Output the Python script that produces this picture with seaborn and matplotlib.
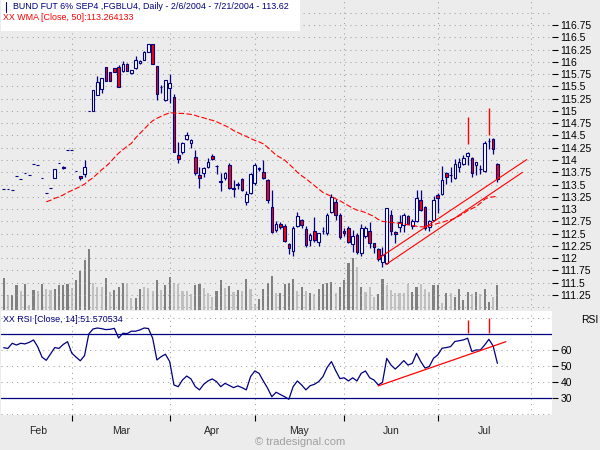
import numpy as np
import pandas as pd
import seaborn as sns
import matplotlib.pyplot as plt
from matplotlib.lines import Line2D
from matplotlib.patches import Rectangle

sns.set_style("white")
plt.rcParams["font.family"] = ["Liberation Sans", "DejaVu Sans"]

NAVY = "#000080"
RED = "#ff0000"
DOT = "#a0a0a0"

# daily bars, bar 0 = 2/6/2004 ... bar 116 = 7/21/2004
opens = [113.41, 113.41, 113.38, 113.67, 113.61, 113.73, 113.69, 113.91, 113.89, 113.63,
         113.32, 113.44, 113.63, 113.93, 113.86, 114.20, 114.20, 113.77, 113.67, 113.71,
         115.00, 115.00, 115.32, 115.45, 115.89, 115.79, 115.87, 115.89, 115.82, 115.96,
         115.77, 115.87, 115.98, 116.04, 116.21, 116.36, 115.91, 115.48, 115.22, 115.46,
         115.29, 114.10, 114.16, 114.42, 114.34, 114.06, 113.69, 113.74, 113.86, 114.08,
         113.87, 113.57, 113.63, 113.90, 113.43, 113.51, 113.61, 113.15, 113.32, 113.53,
         113.83, 113.76, 113.59, 113.05, 112.57, 112.70, 112.66, 112.29, 112.15, 112.66,
         112.78, 112.59, 112.37, 112.55, 112.34, 112.55, 112.51, 112.95, 113.14, 112.89,
         112.55, 112.61, 112.29, 112.47, 112.10, 112.45, 112.55, 112.30, 112.18, 111.93,
         111.90, 112.88, 112.54, 112.64, 112.68, 112.86, 112.66, 112.75, 113.19, 113.04,
         112.63, 112.78, 113.29, 113.31, 113.73, 113.69, 113.64, 113.86, 113.91, 114.09,
         114.05, 113.90, 113.82, 113.78, 114.39, 114.42, 113.91]
highs = [113.41, 113.41, 113.38, 113.67, 113.61, 113.73, 113.69, 113.91, 113.89, 113.63,
         113.32, 113.44, 113.81, 113.93, 113.87, 114.20, 114.20, 113.77, 113.68, 114.00,
         115.00, 115.43, 115.71, 115.68, 115.89, 115.80, 115.88, 115.93, 116.02, 115.98,
         115.84, 116.12, 116.04, 116.22, 116.37, 116.37, 115.92, 115.53, 115.64, 115.75,
         115.34, 114.37, 114.36, 114.57, 114.43, 114.20, 113.85, 113.85, 114.05, 114.12,
         113.90, 113.74, 113.76, 113.94, 113.59, 113.55, 113.63, 113.36, 113.73, 113.93,
         113.86, 114.01, 113.62, 113.39, 112.75, 112.73, 112.70, 112.31, 112.66, 112.95,
         112.80, 112.65, 112.52, 112.83, 112.51, 112.63, 112.92, 113.30, 113.20, 112.92,
         112.62, 112.65, 112.57, 112.52, 112.70, 112.65, 112.74, 112.32, 112.20, 112.23,
         113.02, 112.98, 112.56, 112.88, 112.92, 112.88, 112.80, 113.38, 113.38, 113.06,
         112.78, 113.26, 113.32, 113.88, 113.75, 113.85, 114.02, 114.05, 114.11, 114.17,
         114.07, 113.97, 113.90, 114.39, 114.44, 114.44, 113.93]
lows = [113.41, 113.41, 113.38, 113.67, 113.61, 113.73, 113.69, 113.91, 113.89, 113.63,
        113.32, 113.44, 113.63, 113.93, 113.82, 114.20, 114.20, 113.77, 113.60, 113.66,
        115.00, 115.00, 115.32, 115.36, 115.60, 115.62, 115.79, 115.48, 115.79, 115.81,
        115.75, 115.85, 115.96, 116.03, 116.20, 115.95, 115.22, 115.37, 115.20, 115.16,
        114.17, 113.94, 114.12, 114.40, 114.24, 113.70, 113.44, 113.66, 113.83, 114.00,
        113.71, 113.37, 113.60, 113.42, 113.25, 113.41, 113.37, 113.09, 113.30, 113.50,
        113.77, 113.61, 113.13, 112.51, 112.53, 112.60, 112.33, 112.09, 112.04, 112.63,
        112.62, 112.22, 112.24, 112.33, 112.24, 112.49, 112.48, 112.93, 112.78, 112.40,
        112.45, 112.32, 112.12, 112.08, 112.05, 112.42, 112.21, 112.10, 111.94, 111.83,
        111.88, 112.47, 112.30, 112.54, 112.54, 112.70, 112.60, 112.73, 112.96, 112.58,
        112.55, 112.76, 112.92, 113.29, 113.52, 113.56, 113.62, 113.76, 113.89, 113.90,
        113.66, 113.70, 113.72, 113.76, 114.22, 114.12, 113.55]
closes = [113.41, 113.41, 113.38, 113.67, 113.61, 113.73, 113.69, 113.91, 113.89, 113.63,
          113.32, 113.44, 113.81, 113.93, 113.84, 114.20, 114.20, 113.77, 113.64, 113.86,
          115.00, 115.43, 115.58, 115.68, 115.60, 115.62, 115.79, 115.48, 115.96, 115.81,
          115.83, 116.04, 116.02, 116.21, 116.36, 115.95, 115.35, 115.48, 115.63, 115.56,
          114.17, 114.03, 114.34, 114.51, 114.41, 113.73, 113.63, 113.83, 113.97, 114.03,
          113.87, 113.56, 113.73, 113.44, 113.42, 113.50, 113.39, 113.31, 113.71, 113.90,
          113.82, 113.63, 113.19, 112.54, 112.70, 112.64, 112.36, 112.20, 112.61, 112.85,
          112.68, 112.27, 112.47, 112.37, 112.51, 112.55, 112.88, 113.25, 112.88, 112.43,
          112.51, 112.34, 112.45, 112.12, 112.61, 112.61, 112.30, 112.23, 111.98, 112.06,
          113.02, 112.56, 112.49, 112.73, 112.88, 112.70, 112.76, 113.22, 112.98, 112.61,
          112.76, 113.18, 113.22, 113.59, 113.66, 113.69, 113.91, 113.95, 114.05, 114.15,
          113.73, 113.97, 113.82, 114.34, 114.39, 114.22, 113.62]

# volume (relative units) and shade flag (1 = dark bar)
volume = [32, 15, 15, 25, 19, 26, 5, 20, 19, 26, 21, 20, 21, 25, 25, 26, 22, 30, 39, 50,
          61, 27, 23, 23, 32, 18, 20, 23, 27, 26, 12, 12, 21, 23, 22, 19, 30, 20, 25, 33,
          27, 26, 19, 19, 16, 25, 26, 22, 17, 13, 19, 30, 22, 24, 18, 20, 19, 31, 21, 6,
          11, 21, 27, 34, 17, 17, 26, 27, 31, 19, 23, 19, 17, 16, 21, 26, 27, 28, 17, 23,
          30, 47, 52, 43, 23, 18, 23, 13, 16, 31, 25, 20, 17, 17, 17, 26, 18, 23, 26, 21,
          18, 25, 25, 7, 17, 17, 13, 21, 10, 18, 16, 18, 16, 21, 8, 13, 25]
vol_dark = [1, 0, 1, 1, 0, 1, 0, 1, 0, 1, 0, 0, 1, 1, 1, 1, 0, 1, 1, 1,
            1, 0, 0, 0, 1, 0, 1, 1, 1, 0, 0, 1, 1, 0, 0, 0, 1, 0, 1, 1,
            0, 0, 0, 0, 0, 1, 1, 0, 0, 0, 1, 1, 0, 1, 0, 1, 0, 1, 0, 0,
            1, 1, 1, 1, 0, 1, 1, 1, 1, 0, 1, 0, 1, 0, 1, 1, 1, 1, 0, 1,
            1, 1, 1, 0, 1, 0, 0, 0, 1, 1, 0, 0, 0, 0, 0, 0, 1, 1, 0, 0,
            0, 1, 1, 0, 1, 0, 1, 1, 1, 1, 0, 1, 0, 1, 1, 0, 1]

# WMA(50) from bar 10 on
wma_first_bar = 10
wma = [113.15, 113.18, 113.22, 113.25, 113.29, 113.34, 113.38, 113.42, 113.46, 113.51,
       113.58, 113.64, 113.72, 113.80, 113.87, 113.95, 114.05, 114.14, 114.21, 114.28,
       114.34, 114.45, 114.54, 114.63, 114.72, 114.80, 114.85, 114.89, 114.93, 114.96,
       114.96, 114.95, 114.95, 114.94, 114.93, 114.91, 114.88, 114.86, 114.83, 114.81,
       114.78, 114.74, 114.70, 114.66, 114.60, 114.56, 114.52, 114.48, 114.44, 114.40,
       114.37, 114.33, 114.26, 114.18, 114.10, 114.05, 114.00, 113.92, 113.84, 113.75,
       113.68, 113.62, 113.55, 113.48, 113.41, 113.34, 113.30, 113.26, 113.21, 113.17,
       113.12, 113.07, 113.02, 112.98, 112.96, 112.93, 112.89, 112.85, 112.79, 112.75,
       112.74, 112.73, 112.72, 112.71, 112.70, 112.68, 112.67, 112.65, 112.64, 112.64,
       112.66, 112.68, 112.71, 112.73, 112.76, 112.78, 112.81, 112.86, 112.91, 112.97,
       113.01, 113.05, 113.12, 113.20, 113.24, 113.25, 113.26]

# RSI(14)
rsi = [61.4, 61.0, 64.2, 63.1, 64.2, 63.8, 64.8, 66.3, 62.0, 55.5,
       53.5, 57.5, 61.5, 61.0, 63.5, 65.2, 58.0, 55.5, 53.2, 56.5,
       70.1, 73.2, 73.8, 73.4, 72.8, 73.0, 73.6, 67.5, 70.5, 70.3,
       71.8, 71.8, 72.6, 73.8, 73.5, 67.4, 53.7, 55.8, 57.3, 52.7,
       38.0, 36.9, 41.1, 43.6, 41.8, 37.0, 34.9, 38.4, 40.5, 41.8,
       40.1, 36.9, 39.0, 37.7, 36.3, 37.4, 36.3, 34.9, 43.2, 46.8,
       45.3, 40.5, 36.0, 30.6, 33.4, 32.0, 30.6, 29.0, 36.9, 40.5,
       38.0, 34.9, 37.5, 38.4, 40.1, 43.2, 49.0, 52.7, 47.0, 42.0,
       42.5, 40.5, 42.5, 40.5, 45.3, 46.8, 42.5, 41.1, 38.0, 39.6,
       54.7, 50.5, 48.0, 50.5, 53.3, 50.5, 51.6, 57.9, 52.7, 48.6,
       49.6, 54.8, 56.9, 61.1, 61.5, 62.1, 65.3, 65.8, 66.3, 67.4,
       59.0, 60.0, 60.0, 63.1, 66.7, 62.5, 51.57]

# trend lines (bar, value)
price_trend_upper = ([87.8, 122.9], [111.98, 114.01])
price_trend_lower = ([89.8, 121.9], [111.87, 113.75])
rsi_trend = ([88.0, 118.0], [37.4, 65.2])

# red signal marks
signal_bars = [109, 114]
signal_price_low = [114.32, 114.51]
signal_price_high = [114.88, 115.05]
signal_rsi_low = [70.6, 70.6]
signal_rsi_high = [79.0, 79.8]

month_starts = [0, 16, 39, 59, 80, 102, 124]
month_names = ["Feb", "Mar", "Apr", "May", "Jun", "Jul"]
price_ticks = [111.25, 111.5, 111.75, 112, 112.25, 112.5, 112.75, 113, 113.25, 113.5,
               113.75, 114, 114.25, 114.5, 114.75, 115, 115.25, 115.5, 115.75, 116,
               116.25, 116.5, 116.75]
price_grid = [111.0] + price_ticks + [117.0]
rsi_ticks = [30, 40, 50, 60]
rsi_grid = [20, 40, 50, 60, 80]
rsi_bands = [70, 30]

n = len(closes)
bars = np.arange(n)
o = np.array(opens)
c = np.array(closes)
up = c >= o

fig = plt.figure(figsize=(6, 4.5), dpi=100, facecolor="#ececec")
ax = fig.add_axes([1 / 600, 140 / 450, 551 / 600, 310 / 450])
ax_vol = ax.twinx()
ax_rsi = fig.add_axes([1 / 600, 35 / 450, 551 / 600, 104 / 450])
xlim = ((1 - 3.7) / 4.256, (552 - 3.7) / 4.256)

# volume underneath
ax_vol.bar(bars, volume, width=0.5, linewidth=0,
           color=["#808080" if d else "#c0c0c0" for d in vol_dark])
ax_vol.set_ylim(0, max(volume) * 310 / 61)
ax_vol.set_yticks([])
ax_vol.set_facecolor("white")
ax.set_zorder(ax_vol.get_zorder() + 1)
ax.patch.set_visible(False)

# price panel
for lvl in price_grid:
    ax.axhline(lvl, color=DOT, lw=0.75, ls=(0, (1, 4)), zorder=0)
for m in month_starts[1:]:
    ax.axvline(m, color=DOT, lw=0.75, ls=(0, (1, 4)), zorder=0)
ax.add_patch(Rectangle((0, 1 - 31 / 310), 299 / 551, 31 / 310, transform=ax.transAxes,
                       facecolor="white", edgecolor="none", zorder=1))

ax.vlines(bars, lows, highs, color=NAVY, lw=0.9, zorder=3)
ax.bar(bars, np.abs(c - o), bottom=np.minimum(o, c), width=0.62,
       color=np.where(up, "white", RED), edgecolor=NAVY, linewidth=0.8, zorder=4)

wma_df = pd.DataFrame({"bar": np.arange(wma_first_bar, wma_first_bar + len(wma)), "wma": wma})
sns.lineplot(data=wma_df, x="bar", y="wma", ax=ax, color=RED, lw=0.8,
             linestyle=(0, (5, 2)), zorder=5)
ax.plot(*price_trend_upper, color=RED, lw=0.8, zorder=5)
ax.plot(*price_trend_lower, color=RED, lw=0.8, zorder=5)
ax.vlines(signal_bars, signal_price_low, signal_price_high, color=RED, lw=1.0, zorder=5)

ax.set_xlim(xlim)
ax.set_ylim(110.945, 117.26)
ax.set_xticks([])
ax.set_xlabel("")
ax.set_ylabel("")
ax.yaxis.tick_right()
ax.set_yticks(price_ticks)
ax.set_yticklabels([f"{t:g}" for t in price_ticks])
ax.tick_params(axis="y", right=True, left=False, length=4, width=0.8, pad=2,
               labelsize=7.5, colors="black")
for a in (ax, ax_vol):
    for s in a.spines.values():
        s.set_visible(False)

# RSI panel
ax_rsi.set_facecolor("white")
for lvl in rsi_grid:
    ax_rsi.axhline(lvl, color=DOT, lw=0.75, ls=(0, (1, 4)), zorder=0)
for m in month_starts[1:]:
    ax_rsi.axvline(m, color=DOT, lw=0.75, ls=(0, (1, 4)), zorder=0)
for lvl in rsi_bands:
    ax_rsi.axhline(lvl, color=NAVY, lw=0.9, zorder=2)
rsi_df = pd.DataFrame({"bar": bars, "rsi": rsi})
sns.lineplot(data=rsi_df, x="bar", y="rsi", ax=ax_rsi, color=NAVY, lw=0.9, zorder=3)
ax_rsi.plot(*rsi_trend, color=RED, lw=0.9, zorder=4)
ax_rsi.vlines(signal_bars, signal_rsi_low, signal_rsi_high, color=RED, lw=1.0, zorder=4)

ax_rsi.set_xlim(xlim)
ax_rsi.set_ylim(19.1, 84.5)
ax_rsi.set_xlabel("")
ax_rsi.set_ylabel("")
ax_rsi.yaxis.tick_right()
ax_rsi.set_yticks(rsi_ticks)
ax_rsi.set_yticklabels([str(t) for t in rsi_ticks])
ax_rsi.tick_params(axis="y", right=True, left=False, length=4, width=0.8, pad=2,
                   labelsize=7.5, colors="black")
ax_rsi.set_xticks(month_starts[1:6])
ax_rsi.set_xticklabels([])
centers = [(a + b) / 2 for a, b in zip(month_starts[:-1], month_starts[1:])]
ax_rsi.set_xticks(centers, minor=True)
ax_rsi.set_xticklabels(month_names, minor=True)
ax_rsi.tick_params(axis="x", which="major", bottom=True, direction="out", length=4,
                   width=0.8, colors="black")
ax_rsi.tick_params(axis="x", which="minor", bottom=True, length=0, pad=8, labelsize=7.5)
for s in ax_rsi.spines.values():
    s.set_visible(False)

# header texts
fig.add_artist(Line2D([5.5 / 600, 5.5 / 600], [1 - 2 / 450, 1 - 12 / 450],
                      transform=fig.transFigure, color=NAVY, lw=0.8))
fig.add_artist(Rectangle((4 / 600, 1 - 10 / 450), 3 / 600, 5 / 450, transform=fig.transFigure,
                         facecolor="white", edgecolor=NAVY, lw=0.8))
fig.text(13 / 600, 1 - 6.5 / 450, "BUND FUT 6% SEP4 ,FGBLU4, Daily - 2/6/2004 - 7/21/2004 - 113.62",
         color=NAVY, fontsize=6.4, va="center", ha="left")
fig.text(3 / 600, 1 - 17 / 450, "XX WMA [Close, 50]:113.264133",
         color=RED, fontsize=6.4, va="center", ha="left")
fig.text(3 / 600, 1 - 320 / 450, "XX RSI [Close, 14]:51.570534",
         color=NAVY, fontsize=6.4, va="center", ha="left")
fig.text(590 / 600, 1 - 320 / 450, "RSI", color="black", fontsize=7.5, va="center", ha="center")
fig.text(300 / 600, 1 - 442 / 450, "\u00a9 tradesignal.com", color="#a0a0a0", fontsize=8,
         va="center", ha="center")

fig.savefig("out.png", dpi=100, facecolor=fig.get_facecolor())
